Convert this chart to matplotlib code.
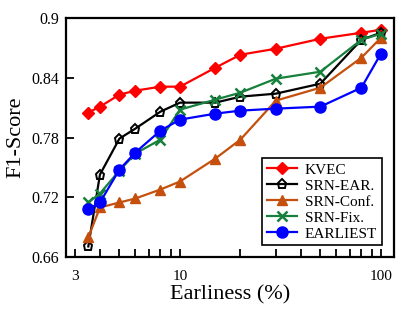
import matplotlib
matplotlib.use("Agg")
import matplotlib.pyplot as plt
from matplotlib.ticker import FixedLocator, FixedFormatter, LogLocator, NullFormatter

plt.rcParams["font.family"] = ["Liberation Serif", "DejaVu Serif"]

# ---- data
earliness = [3.5, 4, 5, 6, 8, 10, 15, 20, 30, 50, 80, 100]

kvec     = [0.805, 0.811, 0.823, 0.827, 0.831, 0.831, 0.850, 0.863, 0.869, 0.879, 0.885, 0.888]
srn_ear  = [0.671, 0.743, 0.779, 0.789, 0.806, 0.815, 0.815, 0.821, 0.824, 0.834, 0.878, 0.885]
srn_conf = [0.680, 0.710, 0.715, 0.719, 0.728, 0.736, 0.759, 0.778, 0.817, 0.830, 0.860, 0.880]
srn_fix  = [0.715, 0.724, 0.747, 0.764, 0.778, 0.808, 0.818, 0.825, 0.839, 0.846, 0.878, 0.884]
earliest = [0.708, 0.715, 0.748, 0.765, 0.787, 0.798, 0.804, 0.807, 0.809, 0.811, 0.830, 0.864]

x_ticks = [3, 10, 100]
y_ticks = [0.66, 0.72, 0.78, 0.84, 0.9]

fig = plt.figure(figsize=(4.15, 3.12), dpi=100)
ax = fig.add_axes([0.159, 0.175, 0.790, 0.768])

lw = 1.6
ax.plot(earliness, kvec, color="#ff0000", marker="D", markersize=6, lw=lw, label="KVEC")
ax.plot(earliness, srn_ear, color="black", marker="p", markersize=6.5, markerfacecolor="none",
        markeredgewidth=1.4, lw=lw, label="SRN-EAR.")
ax.plot(earliness, srn_conf, color="#c5500e", marker="^", markersize=7.5, lw=lw, label="SRN-Conf.")
ax.plot(earliness, srn_fix, color="#16803c", marker="x", markersize=7, markeredgewidth=1.8,
        lw=lw, label="SRN-Fix.")
ax.plot(earliness, earliest, color="#0000ff", marker="o", markersize=8, lw=lw, label="EARLIEST")

ax.set_xscale("log")
ax.set_xlim(2.71, 116)
ax.set_ylim(0.66, 0.9)

ax.xaxis.set_major_locator(FixedLocator(x_ticks))
ax.xaxis.set_major_formatter(FixedFormatter([str(t) for t in x_ticks]))
ax.xaxis.set_minor_locator(LogLocator(base=10, subs=range(2, 10)))
ax.xaxis.set_minor_formatter(NullFormatter())
ax.set_yticks(y_ticks)
ax.set_yticklabels(["0.66", "0.72", "0.78", "0.84", "0.9"])

ax.tick_params(axis="both", which="both", direction="in", top=False, right=False)
ax.tick_params(axis="x", which="major", length=6, width=1.3, pad=9, labelsize=11)
ax.tick_params(axis="x", which="minor", length=6, width=1.3)
ax.tick_params(axis="y", which="major", length=6, width=1.3, pad=5, labelsize=11.5)

for s in ax.spines.values():
    s.set_linewidth(1.6)

ax.set_xlabel("Earliness (%)", fontsize=16, labelpad=2)
ax.set_ylabel("F1-Score", fontsize=16, labelpad=4)

leg = ax.legend(loc="lower right", fontsize=11, frameon=True, fancybox=False,
                edgecolor="black", framealpha=1, handlelength=2.0, borderpad=0.3,
                labelspacing=0.15, handletextpad=0.5, borderaxespad=0.8)
leg.get_frame().set_linewidth(1.2)

plt.savefig("out.png", dpi=100)
plt.close()
